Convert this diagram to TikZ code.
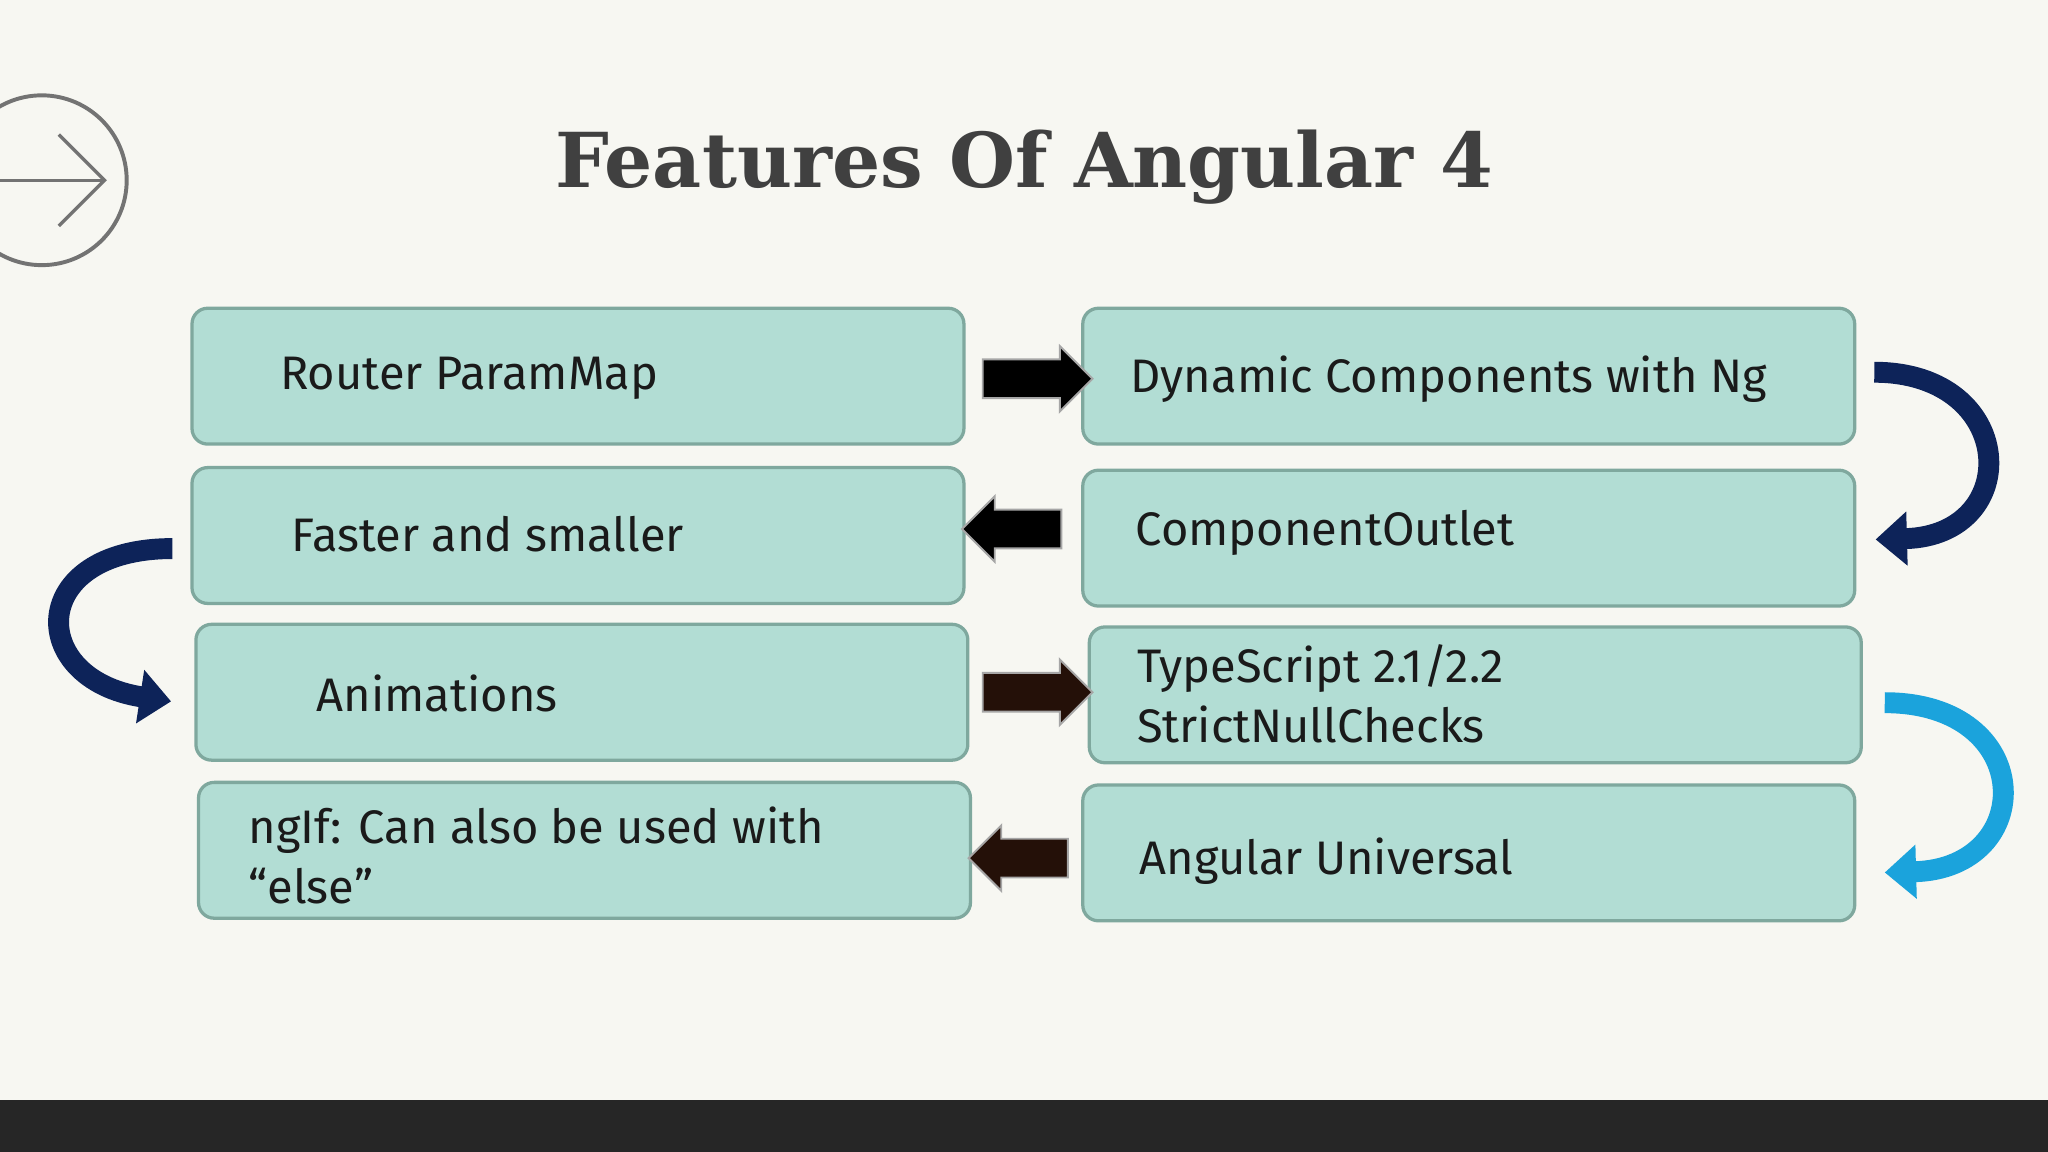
\documentclass[tikz,border=0pt]{standalone}
\usepackage{fontspec}
\setmainfont{Fira Sans}
\newfontfamily\titlefont{DejaVu Serif}
\usetikzlibrary{shapes.arrows,arrows.meta}
\definecolor{bg}{HTML}{F7F7F2}
\definecolor{boxfill}{HTML}{B2DDD4}
\definecolor{boxline}{HTML}{7FA89E}
\definecolor{navy}{HTML}{0D2359}
\definecolor{darkbrown}{HTML}{241008}
\definecolor{lblue}{HTML}{1BA3DC}
\definecolor{txt}{HTML}{1A1A1A}
\tikzset{
 feat/.style={draw=boxline,line width=2.5pt,fill=boxfill,rounded corners=12pt},
 lbl/.style={anchor=west,font=\fontsize{36}{46}\selectfont,text=txt,align=left},
 blk/.style={single arrow,draw=gray!70,line width=1.5pt,minimum height=84pt,minimum width=50pt,single arrow head extend=6pt,inner sep=8pt},
 curv/.style={line width=16pt,-{Triangle[width=40pt,length=24pt]}},
}
\begin{document}
\begin{tikzpicture}[x=1pt,y=-1pt]
\fill[bg] (0,0) rectangle (1568,882);
\useasboundingbox (0,0) rectangle (1568,882);
\fill[black!85] (0,842) rectangle (1568,882);
% icon
\draw[gray!90!black,line width=3pt] (32,138) circle (65);
\draw[gray!90!black,line width=2.5pt] (0,138) -- (80,138);
\draw[gray!90!black,line width=2.5pt] (45,103) -- (80,138) -- (45,173);
\node[font=\titlefont\bfseries\fontsize{58}{64}\selectfont,text=black!75] (title) at (784,128) {Features Of Angular 4};
% boxes
\draw[feat] (147,236) rectangle (738,340);
\draw[feat] (829,236) rectangle (1420,340);
\draw[feat] (147,358) rectangle (738,462);
\draw[feat] (829,360) rectangle (1420,464);
\draw[feat] (150,478) rectangle (741,582);
\draw[feat] (834,480) rectangle (1425,584);
\draw[feat] (152,599) rectangle (743,703);
\draw[feat] (829,601) rectangle (1420,705);
\node[lbl] (t1) at (211,290) {Router ParamMap};
\node[lbl] (t2) at (862,290) {Dynamic Components with Ng};
\node[lbl] (t3) at (220,409) {Faster and smaller};
\node[lbl] (t4) at (866,408) {ComponentOutlet};
\node[lbl] (t5) at (239,531) {Animations};
\node[lbl] (t6) at (867,531) {TypeScript 2.1/2.2\\StrictNullChecks};
\node[lbl] (t7) at (187,655) {ngIf: Can also be used with\\“else”};
\node[lbl] (t8) at (869,659) {Angular Universal};
% block arrows
\node[blk,fill=black] (a1) at (787,290) {};
\node[blk,fill=black,shape border rotate=180,minimum height=76pt] (a2) at (782,405) {};
\node[blk,fill=darkbrown] (a3) at (787,530) {};
\node[blk,fill=darkbrown,shape border rotate=180,minimum height=76pt] (a4) at (787,657) {};
% curved arrows
\coordinate (c1s) at (1435,285); \coordinate (c1e) at (1436,413);
\draw[curv,navy] (c1s) .. controls (1545,285) and (1550,410) .. (c1e);
\coordinate (c2s) at (132,420); \coordinate (c2e) at (131,537);
\draw[curv,navy] (c2s) .. controls (20,420) and (20,520) .. (c2e);
\coordinate (c3s) at (1443,538); \coordinate (c3e) at (1443,668);
\draw[curv,lblue] (c3s) .. controls (1560,538) and (1560,665) .. (c3e);
\end{tikzpicture}
\end{document}
